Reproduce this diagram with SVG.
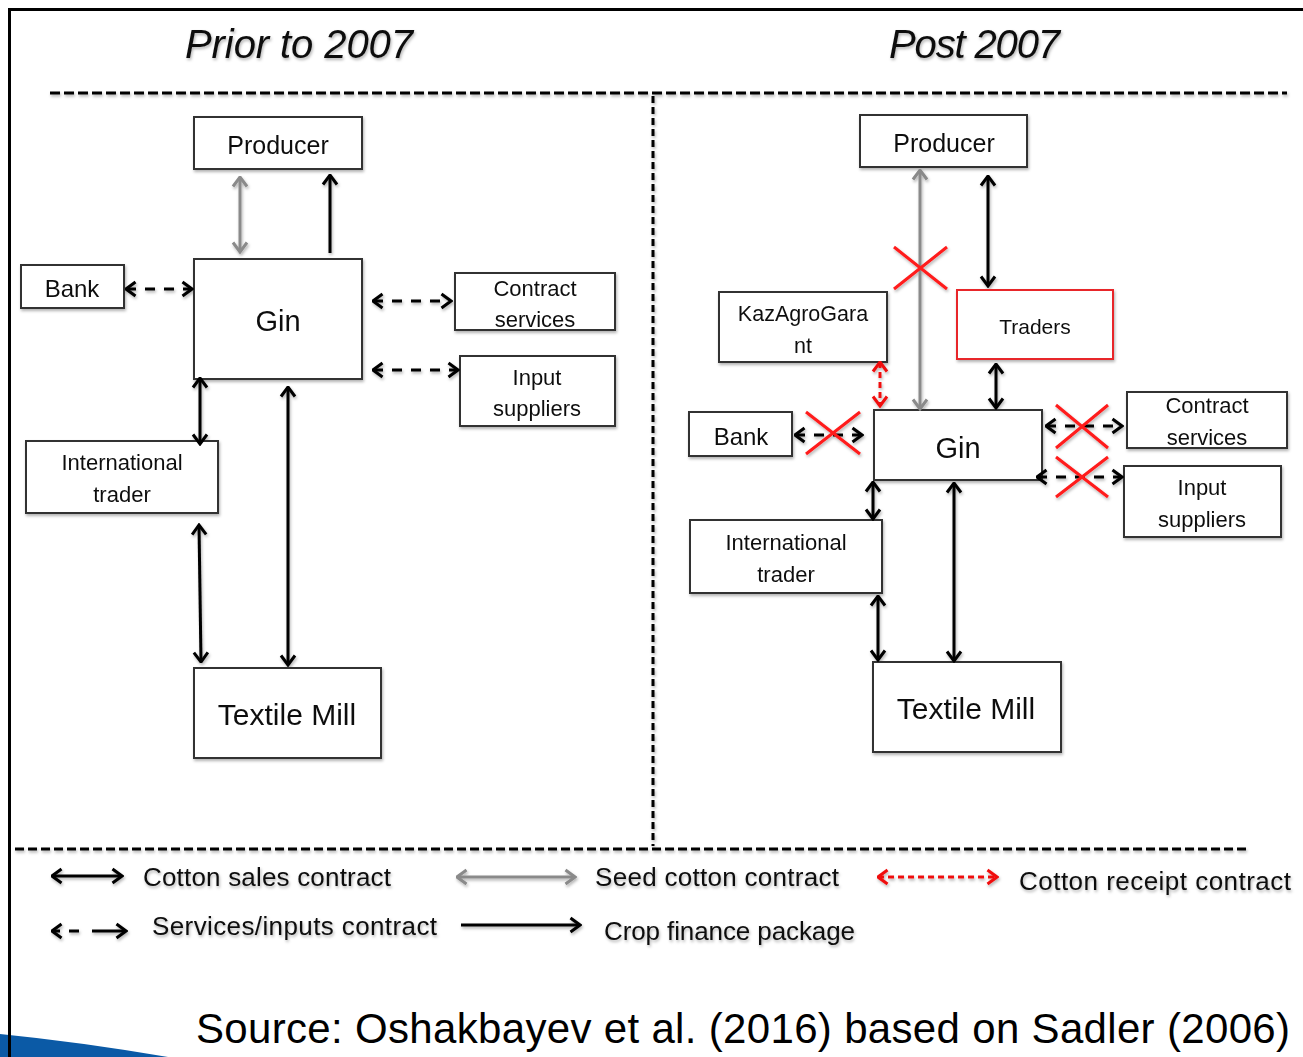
<svg xmlns="http://www.w3.org/2000/svg" width="1303" height="1057" viewBox="0 0 1303 1057">
  <defs>
    <style>
      .box { fill: #fff; stroke: #333; stroke-width: 2; }
      .box.red { stroke: #e8262b; }
      .t { font-family: "Liberation Sans", Arial, sans-serif; fill: #111; text-anchor: middle; }
      .lg { font-family: "Liberation Sans", Arial, sans-serif; fill: #111; font-size: 26px; }
      .title { font-family: "Liberation Sans", Arial, sans-serif; font-style: italic; font-size: 40px; fill: #111; }
      .sale { stroke: #000; stroke-width: 3; fill: none; marker-start: url(#ab); marker-end: url(#ab); }
      .fin { stroke: #000; stroke-width: 3; fill: none; marker-end: url(#ab); }
      .seed { stroke: #8a8a8a; stroke-width: 3; fill: none; marker-start: url(#ag); marker-end: url(#ag); }
      .svc { stroke: #000; stroke-width: 3; fill: none; stroke-dasharray: 10 9; marker-start: url(#ab); marker-end: url(#ab); }
      .rcpt { stroke: #f01010; stroke-width: 3; fill: none; stroke-dasharray: 6 4; marker-start: url(#ar); marker-end: url(#ar); }
      .cross { stroke: #ff1a1a; stroke-width: 3; fill: none; }
      .sep { stroke: #000; stroke-width: 3; fill: none; }
    </style>
    <marker id="ab" viewBox="0 0 13 18" refX="11.5" refY="9" markerWidth="13" markerHeight="18" markerUnits="userSpaceOnUse" orient="auto-start-reverse">
      <path d="M2,2 L11.5,9 L2,16" fill="none" stroke="#000" stroke-width="3"/>
    </marker>
    <marker id="ag" viewBox="0 0 13 18" refX="11.5" refY="9" markerWidth="13" markerHeight="18" markerUnits="userSpaceOnUse" orient="auto-start-reverse">
      <path d="M2,2 L11.5,9 L2,16" fill="none" stroke="#8a8a8a" stroke-width="3"/>
    </marker>
    <marker id="ar" viewBox="0 0 13 18" refX="11.5" refY="9" markerWidth="13" markerHeight="18" markerUnits="userSpaceOnUse" orient="auto-start-reverse">
      <path d="M2,2 L11.5,9 L2,16" fill="none" stroke="#f01010" stroke-width="3"/>
    </marker>
    <filter id="sh" x="-10%" y="-10%" width="120%" height="130%">
      <feDropShadow dx="1" dy="2" stdDeviation="1.4" flood-color="#000" flood-opacity="0.3"/>
    </filter>
  </defs>

  <rect width="1303" height="1057" fill="#fff"/>

  <!-- corner accent and outer frame -->
  <path d="M0,1034 Q80,1042 168,1057 L0,1057 Z" fill="#0b5aa6"/>
  <path d="M9.5,1057 V9.5 H1303" fill="none" stroke="#000" stroke-width="3"/>

  <g filter="url(#sh)">
    <!-- headings -->
    <text class="title" x="185" y="58" textLength="228">Prior to 2007</text>
    <text class="title" x="889" y="58" textLength="171">Post 2007</text>

    <!-- panel separators -->
    <line class="sep" x1="50" y1="93" x2="1287" y2="93" stroke-dasharray="10 4"/>
    <line class="sep" x1="653" y1="96" x2="653" y2="846" stroke-dasharray="7 4"/>
    <line class="sep" x1="15" y1="849" x2="1250" y2="849" stroke-dasharray="9 4"/>

    <!-- ===== before 2007 ===== -->
    <g id="l-producer">
      <rect class="box" x="194" y="117" width="168" height="52"/>
      <text class="t" x="278" y="154" font-size="25">Producer</text>
    </g>
    <g id="l-gin">
      <rect class="box" x="194" y="259" width="168" height="120"/>
      <text class="t" x="278" y="331" font-size="29">Gin</text>
    </g>
    <g id="l-bank">
      <rect class="box" x="21" y="265" width="103" height="43"/>
      <text class="t" x="72" y="297" font-size="24">Bank</text>
    </g>
    <g id="l-contract">
      <rect class="box" x="455" y="273" width="160" height="57"/>
      <text class="t" x="535" y="296" font-size="22">Contract</text>
      <text class="t" x="535" y="327" font-size="22">services</text>
    </g>
    <g id="l-input">
      <rect class="box" x="460" y="356" width="155" height="70"/>
      <text class="t" x="537" y="385" font-size="22">Input</text>
      <text class="t" x="537" y="416" font-size="22">suppliers</text>
    </g>
    <g id="l-intl">
      <rect class="box" x="26" y="441" width="192" height="72"/>
      <text class="t" x="122" y="470" font-size="22">International</text>
      <text class="t" x="122" y="502" font-size="22">trader</text>
    </g>
    <g id="l-mill">
      <rect class="box" x="194" y="668" width="187" height="90"/>
      <text class="t" x="287" y="725" font-size="30">Textile Mill</text>
    </g>

    <!-- ===== after 2007 ===== -->
    <g id="r-producer">
      <rect class="box" x="860" y="115" width="167" height="52"/>
      <text class="t" x="944" y="152" font-size="25">Producer</text>
    </g>
    <g id="r-traders">
      <rect class="box red" x="957" y="290" width="156" height="69"/>
      <text class="t" x="1035" y="334" font-size="21">Traders</text>
    </g>
    <g id="r-kazagro">
      <rect class="box" x="719" y="292" width="168" height="70"/>
      <text class="t" x="803" y="321" font-size="21.5">KazAgroGara</text>
      <text class="t" x="803" y="353" font-size="21.5">nt</text>
    </g>
    <g id="r-bank">
      <rect class="box" x="689" y="412" width="103" height="44"/>
      <text class="t" x="741" y="445" font-size="24">Bank</text>
    </g>
    <g id="r-gin">
      <rect class="box" x="874" y="410" width="168" height="70"/>
      <text class="t" x="958" y="458" font-size="29">Gin</text>
    </g>
    <g id="r-contract">
      <rect class="box" x="1127" y="392" width="160" height="56"/>
      <text class="t" x="1207" y="413" font-size="22">Contract</text>
      <text class="t" x="1207" y="445" font-size="22">services</text>
    </g>
    <g id="r-input">
      <rect class="box" x="1124" y="466" width="157" height="71"/>
      <text class="t" x="1202" y="495" font-size="22">Input</text>
      <text class="t" x="1202" y="527" font-size="22">suppliers</text>
    </g>
    <g id="r-intl">
      <rect class="box" x="690" y="520" width="192" height="73"/>
      <text class="t" x="786" y="550" font-size="22">International</text>
      <text class="t" x="786" y="582" font-size="22">trader</text>
    </g>
    <g id="r-mill">
      <rect class="box" x="873" y="662" width="188" height="90"/>
      <text class="t" x="966" y="719" font-size="30">Textile Mill</text>
    </g>

    <!-- connectors -->
    <g id="connectors">
      <!-- before 2007 -->
      <line class="seed" x1="240" y1="252" x2="240" y2="177"/>
      <line class="fin" x1="330" y1="253" x2="330" y2="175"/>
      <line class="svc" x1="126" y1="289" x2="192" y2="289"/>
      <line class="svc" x1="373" y1="301" x2="451" y2="301"/>
      <line class="svc" x1="373" y1="370" x2="458" y2="370"/>
      <line class="sale" x1="200" y1="378" x2="200" y2="444"/>
      <line class="sale" x1="199" y1="525" x2="201" y2="662"/>
      <line class="sale" x1="288" y1="387" x2="288" y2="665"/>

      <!-- after 2007 -->
      <line class="seed" x1="920" y1="409" x2="920" y2="170"/>
      <line class="sale" x1="988" y1="176" x2="988" y2="286"/>
      <line class="sale" x1="996" y1="364" x2="996" y2="408"/>
      <line class="rcpt" x1="880" y1="362" x2="880" y2="406"/>
      <line class="svc" x1="795" y1="435" x2="862" y2="435"/>
      <line class="svc" x1="1046" y1="426" x2="1122" y2="426"/>
      <line class="svc" x1="1037" y1="477" x2="1122" y2="477"/>
      <line class="sale" x1="873" y1="482" x2="873" y2="519"/>
      <line class="sale" x1="878" y1="596" x2="878" y2="660"/>
      <line class="sale" x1="954" y1="483" x2="954" y2="661"/>

      <!-- discontinued links -->
      <path class="cross" d="M894,247 L947,289 M894,289 L947,247"/>
      <path class="cross" d="M806,412 L860,454 M806,454 L860,412"/>
      <path class="cross" d="M1056,405 L1108,448 M1056,448 L1108,405"/>
      <path class="cross" d="M1056,457 L1108,497 M1056,497 L1108,457"/>
    </g>

    <!-- key -->
    <g id="legend">
      <line class="sale" x1="52" y1="876" x2="122" y2="876"/>
      <text class="lg" x="143" y="886" textLength="248">Cotton sales contract</text>
      <line class="seed" x1="457" y1="877" x2="575" y2="877"/>
      <text class="lg" x="595" y="886" textLength="244">Seed cotton contract</text>
      <line class="rcpt" x1="878" y1="877" x2="997" y2="877"/>
      <text class="lg" x="1019" y="890" textLength="272">Cotton receipt contract</text>
      <line class="svc" x1="52" y1="931" x2="126" y2="931" style="stroke-dasharray: 8 9 10 13 40"/>
      <text class="lg" x="152" y="935" textLength="285">Services/inputs contract</text>
      <line class="fin" x1="461" y1="925" x2="580" y2="925"/>
      <text class="lg" x="604" y="940" textLength="251">Crop finance package</text>
    </g>
  </g>

  <text x="196" y="1043" font-family="Liberation Sans, Arial, sans-serif" font-size="42" fill="#000" textLength="1094">Source: Oshakbayev et al. (2016) based on Sadler (2006)</text>
</svg>
